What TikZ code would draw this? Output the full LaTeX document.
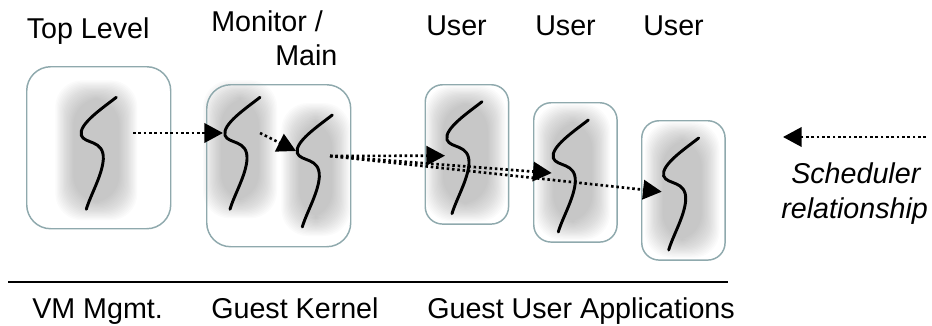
\documentclass[tikz,border=0pt]{standalone}
\usepackage{fontspec}
\setmainfont{Liberation Sans}
\usetikzlibrary{arrows.meta,calc}
\definecolor{boxline}{HTML}{8FA9AD}
\tikzset{
  vmbox/.style={draw=boxline,line width=1.1pt,rounded corners=#1,inner sep=0pt,anchor=north west},
  threadline/.style={line width=2.2pt,line cap=round,black},
  sched/.style={line width=2pt,dash pattern=on 1.9pt off 2.1pt,black,
     -{Triangle[length=14pt,width=14.5pt,sep=0pt]},shorten >=0pt},
  txt/.style={font=\fontsize{21.5}{24}\selectfont,inner sep=0pt,anchor=base west},
  itxt/.style={txt,font=\fontsize{21.5}{24}\selectfont\itshape},
}
% name, x, y, blob left, blob right, blob top, blob bottom (relative to thread top)
\newcommand{\threadat}[7]{%
  \begin{scope}[shift={(#2,#3)}]
    \coordinate (#1) at (0,0);
    \foreach \k in {0,...,15}{
      \fill[black,fill opacity=0.015,rounded corners=20pt]
        ({#4-3+1.2*\k},{#6-3+1.2*\k}) rectangle ({#5+3-1.2*\k},{#7+3-1.2*\k});
    }
    \draw[threadline] (0,0) .. controls (-14,11) and (-38,27) .. (-35,38)
       .. controls (-32,47) and (-12,42) .. (-13,62)
       .. controls (-14,78) and (-26,98) .. (-30,112);
  \end{scope}}
\begin{document}
\begin{tikzpicture}[x=0.75pt,y=-0.75pt]
\useasboundingbox (0,0) rectangle (932,325);
\threadat{ta}{116.3}{97.3}{-58}{18}{-14}{120}
\threadat{tb}{260}{97.3}{-54}{14}{-14}{118}
\threadat{tc}{332.3}{115}{-48}{15}{-9}{118}
\threadat{td}{482}{101.7}{-54}{21}{-13}{117}
\threadat{te}{588.3}{120}{-50}{19}{-13}{117}
\threadat{tf}{698.7}{138}{-51}{18}{-13}{117}
\node[vmbox=18pt,minimum width=108pt,minimum height=121.5pt] (boxa) at (26,66) {};
\node[vmbox=18pt,minimum width=108pt,minimum height=121.5pt] (boxb) at (206,84) {};
\node[vmbox=13pt,minimum width=62.5pt,minimum height=104.5pt] (boxc) at (424.5,84) {};
\node[vmbox=13pt,minimum width=62.5pt,minimum height=104.5pt] (boxd) at (533,102) {};
\node[vmbox=13pt,minimum width=62.5pt,minimum height=104.5pt] (boxe) at (641,120) {};
% connector ends
\coordinate (aout) at ($(ta)+(16.7,35.7)$);
\coordinate (bin) at ($(tb)+(-37,35.7)$);
\coordinate (bout) at ($(tb)+(0,35.7)$);
\coordinate (cin) at ($(tc)+(-36.3,36)$);
\coordinate (cout) at ($(tc)+(-2.3,41)$);
\coordinate (din) at ($(td)+(-37,54)$);
\coordinate (ein) at ($(te)+(-36.6,53)$);
\coordinate (fin) at ($(tf)+(-37,53.7)$);
\coordinate (legfrom) at (926,137);
\coordinate (legto) at (783,137);
\draw[sched] (aout) -- (bin);
\draw[sched] (bout) -- (cin);
\draw[sched] (cout) -- (din);
\draw[sched] (cout) -- (ein);
\draw[sched] (cout) -- (fin);
\draw[sched] (legfrom) -- (legto);
% labels
\node[txt] (l1) at (26.5,38.3) {Top Level};
\node[txt] (l2) at (211,31) {Monitor /};
\node[txt] (l3) at (275,65) {Main};
\node[txt] (l4) at (426,35.7) {User};
\node[txt] (l5) at (535,35.7) {User};
\node[txt] (l6) at (643,35.7) {User};
\node[txt] (b1) at (32,318) {VM Mgmt.};
\node[txt] (b2) at (211,318) {Guest Kernel};
\node[txt] (b3) at (427,318) {Guest User Applications};
\node[itxt] (s1) at (791,183) {Scheduler};
\node[itxt] (s2) at (781,218) {relationship};
\coordinate (rulea) at (8,281.7);
\coordinate (ruleb) at (728,281.7);
\draw[line width=1.5pt,black] (rulea) -- (ruleb);
\end{tikzpicture}
\end{document}
